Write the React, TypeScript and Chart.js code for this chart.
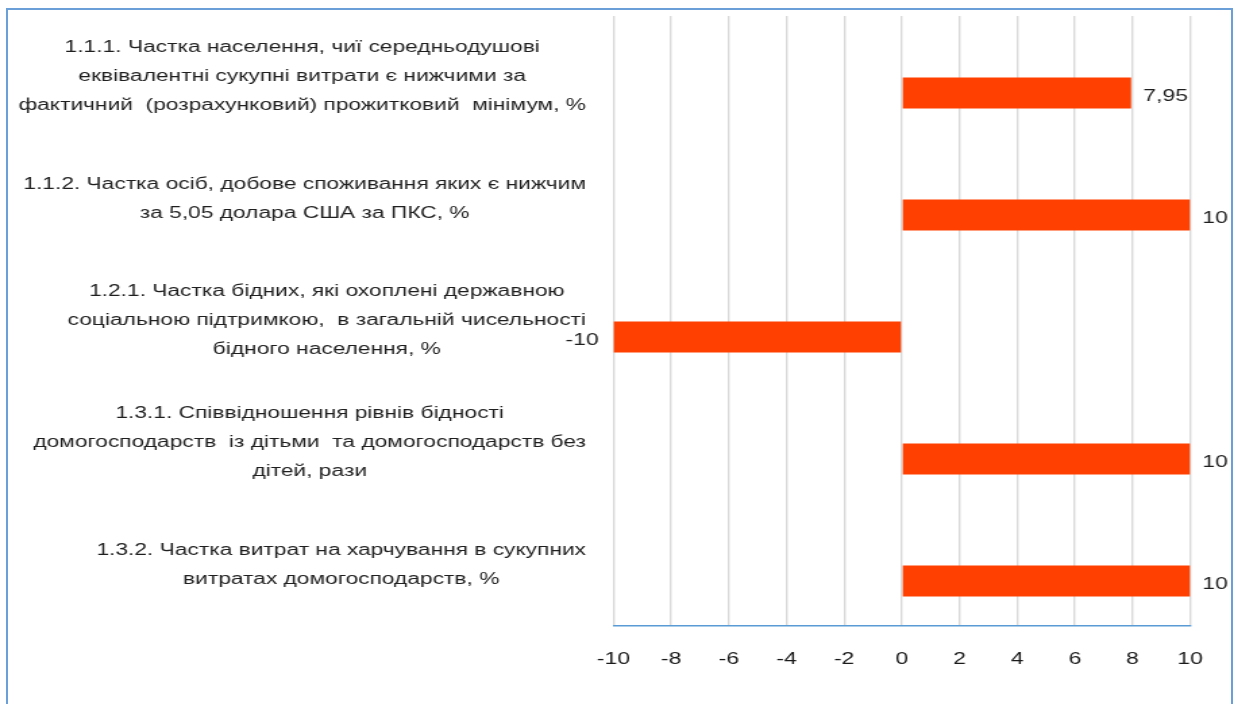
import React, { useEffect, useRef } from "react";
import { Chart, registerables } from "chart.js";

Chart.register(...registerables);

// ---- data ----
const categories: string[][] = [
  [
    "1.1.1. Частка населення, чиї середньодушові",
    "еквівалентні сукупні витрати є нижчими за",
    "фактичний  (розрахунковий) прожитковий  мінімум, %",
  ],
  [
    "1.1.2. Частка осіб, добове споживання яких є нижчим",
    "за 5,05 долара США за ПКС, %",
  ],
  [
    "1.2.1. Частка бідних, які охоплені державною",
    "соціальною підтримкою,  в загальній чисельності",
    "бідного населення, %",
  ],
  [
    "1.3.1. Співвідношення рівнів бідності",
    "домогосподарств  із дітьми  та домогосподарств без",
    "дітей, рази",
  ],
  [
    "1.3.2. Частка витрат на харчування в сукупних",
    "витратах домогосподарств, %",
  ],
];
const values: number[] = [7.95, 10, -10, 10, 10];
const emptySeries: (number | null)[] = [null, null, null, null, null];
const xTickValues: number[] = [-10, -8, -6, -4, -2, 0, 2, 4, 6, 8, 10];

// ---- layout constants ----
const PAGE_W = 1234;
const PAGE_H = 704;
const LOGICAL_W = 914;
const STRETCH = PAGE_W / LOGICAL_W;
const FONT = '"Liberation Sans", Arial, sans-serif';
const LABEL_KX = 1.053;

const blockLabels = {
  id: "blockLabels",
  afterDraw(chart: any) {
    const ctx = chart.ctx;
    const y = chart.scales.y;
    const right = 586 / STRETCH;
    ctx.save();
    ctx.font = `16px ${FONT}`;
    ctx.fillStyle = "#1f1f1f";
    ctx.textBaseline = "middle";
    ctx.textAlign = "center";
    categories.forEach((lines, i) => {
      const cy = y.getPixelForValue(i);
      const w = Math.max(...lines.map((l) => ctx.measureText(l).width)) * LABEL_KX;
      const cx = right - w / 2;
      lines.forEach((l, j) => {
        ctx.save();
        ctx.translate(cx, cy + (j - (lines.length - 1) / 2) * 29);
        ctx.scale(LABEL_KX, 1);
        ctx.fillText(l, 0, 0);
        ctx.restore();
      });
    });
    ctx.restore();
  },
};

const valueLabels = {
  id: "valueLabels",
  afterDatasetsDraw(chart: any) {
    const ctx = chart.ctx;
    const meta = chart.getDatasetMeta(1);
    ctx.save();
    ctx.font = `17px ${FONT}`;
    ctx.fillStyle = "#1f1f1f";
    ctx.textBaseline = "middle";
    meta.data.forEach((bar: any, i: number) => {
      const v = values[i];
      const txt = String(v).replace(".", ",");
      if (v >= 0) {
        ctx.textAlign = "left";
        ctx.fillText(txt, bar.x + 9, bar.y + 3);
      } else {
        ctx.textAlign = "right";
        ctx.fillText(txt, bar.x - 11, bar.y + 3);
      }
    });
    ctx.restore();
  },
};

export default function App() {
  const ref = useRef<HTMLCanvasElement | null>(null);

  useEffect(() => {
    if (!ref.current) return;
    const chart = new Chart(ref.current, {
      type: "bar",
      data: {
        labels: categories,
        datasets: [
          {
            label: "spacer",
            data: emptySeries,
            backgroundColor: "rgba(0,0,0,0)",
            categoryPercentage: 64 / 122,
            barPercentage: 0.97,
          },
          {
            label: "value",
            data: values,
            backgroundColor: "#ff4000",
            borderWidth: 0,
            categoryPercentage: 64 / 122,
            barPercentage: 0.97,
          },
        ],
      },
      options: {
        indexAxis: "y",
        responsive: true,
        maintainAspectRatio: false,
        animation: false,
        layout: {
          padding: {
            left: 613.5 / STRETCH,
            right: LOGICAL_W - 1191.5 / STRETCH,
            top: 16,
            bottom: 0,
          },
        },
        plugins: {
          legend: { display: false },
          tooltip: { enabled: false },
        },
        scales: {
          x: {
            type: "linear",
            min: -10,
            max: 10,
            afterBuildTicks: (s: any) => {
              s.ticks = xTickValues.map((v) => ({ value: v }));
            },
            ticks: {
              color: "#1a1a1a",
              font: { family: FONT, size: 17 },
              padding: 23,
            },
            grid: { color: "#d9d9d9", lineWidth: 1.4, drawTicks: false },
            border: { display: true, color: "#5b9bd5", width: 1.5 },
            afterFit: (s: any) => {
              s.height = PAGE_H - 626;
            },
          },
          y: {
            type: "category",
            display: false,
          },
        },
      },
      plugins: [blockLabels, valueLabels],
    } as any);
    return () => chart.destroy();
  }, []);

  return (
    <>
      <div
        style={{
          position: "fixed",
          left: 0,
          top: 0,
          width: LOGICAL_W,
          height: PAGE_H,
          transform: `scaleX(${STRETCH})`,
          transformOrigin: "0 0",
        }}
      >
        <canvas ref={ref} />
      </div>
      <div
        style={{
          position: "fixed",
          left: 6,
          top: 8,
          width: 1223,
          height: 800,
          border: "2px solid #6a9fd8",
          pointerEvents: "none",
        }}
      />
    </>
  );
}
